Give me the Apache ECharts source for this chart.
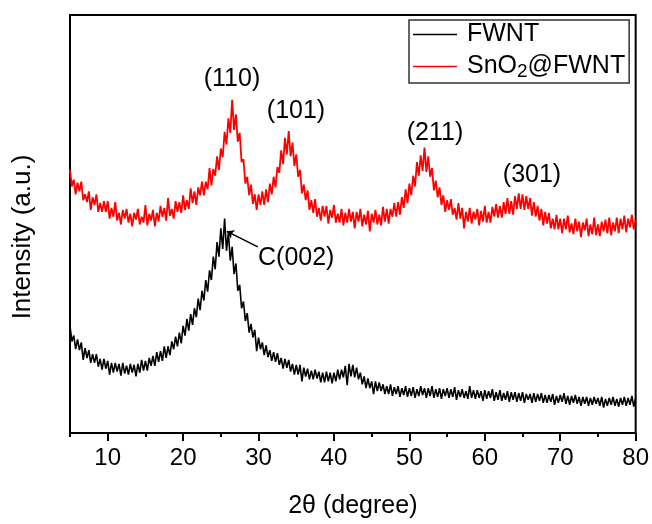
<!DOCTYPE html>
<html>
<head>
<meta charset="utf-8">
<script src="https://cdn.jsdelivr.net/npm/echarts@6/dist/echarts.min.js"></script>
<style>
  html, body { margin: 0; padding: 0; background: #fff; }
  #main { width: 652px; height: 524px; }
</style>
</head>
<body>
<div id="main"></div>
<script>
// 2theta sampling of the traces (degrees)
var thetaStart = 5;
var thetaStep = 0.25;

// FWNT trace, intensity (a.u.)
var fwnt = [
  110,94,100,86,96,85,93,75,87,77,85,72,81,72,81,68,76,65,76,66,
  74,60,72,62,72,63,71,59,72,61,69,60,71,62,70,58,71,62,75,64,
  74,64,77,69,79,69,83,73,84,74,89,77,89,80,94,86,99,89,103,92,
  110,100,117,105,122,111,128,119,138,126,146,136,157,145,167,157,181,168,196,181,
  210,189,220,187,206,177,191,163,174,146,152,128,135,115,123,103,112,98,106,84,
  98,86,93,80,90,78,85,74,83,73,82,70,77,66,76,67,75,63,71,60,
  70,60,70,53,67,58,66,55,64,55,65,56,63,52,62,52,63,53,62,51,
  62,53,65,55,65,57,69,49,71,58,70,57,67,55,62,50,58,46,56,46,
  53,40,53,43,52,43,50,40,48,40,50,38,47,40,48,37,46,39,48,37,
  46,38,47,36,45,38,48,39,46,36,46,38,48,36,45,37,46,35,45,38,
  46,36,45,37,47,34,44,37,45,36,43,35,48,36,44,35,44,36,43,33,
  44,35,43,36,45,33,42,34,44,33,41,34,43,32,42,34,42,32,41,33,
  42,31,40,34,40,31,41,32,40,33,41,31,39,31,39,32,40,29,38,31,
  39,32,41,30,38,29,38,31,39,30,37,28,37,30,37,28,36,29,37,30,
  36,28,37,26,35,28,36,29,37,28,35,27,36,29,37,28,36,29,38,27,
  36
];

// SnO2@FWNT trace, intensity (a.u.)
var sno2 = [
  270,253,260,245,257,248,258,239,245,237,248,229,242,234,245,227,236,227,238,227,
  238,220,231,222,237,218,226,214,229,220,230,216,225,212,226,219,230,214,222,216,
  234,213,225,218,229,212,226,217,233,222,231,218,241,223,230,220,238,227,237,226,
  244,229,239,230,251,236,248,234,252,244,258,244,258,250,272,254,271,264,284,270,
  292,283,309,296,323,308,342,311,327,299,308,278,281,256,263,244,255,235,245,229,
  245,234,248,234,250,237,256,245,263,252,273,267,290,276,303,286,310,284,298,274,
  286,263,270,246,255,239,249,229,239,226,240,222,231,218,233,222,233,215,229,221,
  234,216,225,216,230,213,226,216,230,217,227,210,227,217,230,212,224,214,228,207,
  225,216,229,214,224,213,232,217,230,215,230,222,236,222,237,224,242,231,250,236,
  256,244,264,253,278,264,285,269,293,268,284,263,272,249,259,242,252,234,244,227,
  239,229,240,224,231,219,236,220,231,210,227,217,231,215,227,219,230,213,228,217,
  233,216,227,216,232,222,235,221,233,221,237,225,241,225,238,224,243,230,246,230,
  245,229,243,230,241,223,237,222,233,218,230,213,227,215,226,210,220,209,224,209,
  220,205,220,209,223,206,215,204,220,207,217,201,216,208,220,202,214,204,221,203,
  214,202,217,207,219,205,221,203,216,207,221,205,220,209,223,206,220,211,224,209,
  219
];

var xTicks = [10, 20, 30, 40, 50, 60, 70, 80];
var xMinorTicks = [5, 15, 25, 35, 45, 55, 65, 75];
var seriesNames = ['FWNT', 'SnO2@FWNT'];
var peakNames = ['(110)', '(101)', '(211)', '(301)'];
var carbonPeak = 'C(002)';

function toPairs(arr) {
  return arr.map(function (v, i) { return [thetaStart + i * thetaStep, v]; });
}

var FONT = '"Liberation Sans", Arial, sans-serif';

var chartDom = document.getElementById('main');
var myChart = echarts.init(chartDom);
var option;

function label(text, x, y, align) {
  return {
    type: 'text', x: x, y: y,
    style: { text: text, fontSize: 25, fontFamily: FONT, fill: '#000', align: align || 'center', verticalAlign: 'middle' }
  };
}

option = {
  animation: false,
  textStyle: { fontFamily: FONT },
  grid: {
    left: 70, right: 15, top: 15, bottom: 80,
    show: true, borderColor: '#000', borderWidth: 2
  },
  legend: {
    orient: 'vertical',
    left: 409, top: 20,
    padding: [2, 4, 2, 4],
    itemGap: 7,
    itemWidth: 44,
    itemHeight: 1.5,
    icon: 'rect',
    borderColor: '#333',
    borderWidth: 1.5,
    data: seriesNames,
    formatter: function (name) {
      if (name === 'SnO2@FWNT') return '{t|SnO}{s|2}{t|@FWNT}';
      return '{t|' + name + '}';
    },
    textStyle: {
      color: '#000',
      fontFamily: FONT,
      fontSize: 25,
      padding: [0, 0, 0, 5],
      rich: {
        t: { fontSize: 25, fontFamily: FONT, color: '#000' },
        s: { fontSize: 19, fontFamily: FONT, color: '#000', verticalAlign: 'bottom', padding: [0, 0, -2, 0] }
      }
    }
  },
  xAxis: [
    {
      type: 'value', min: 5, max: 80, position: 'bottom',
      name: '2\u03b8 (degree)', nameLocation: 'middle', nameGap: 61,
      nameTextStyle: { fontSize: 25, color: '#000', fontFamily: FONT },
      axisLine: { lineStyle: { color: '#000', width: 2 } },
      axisTick: { customValues: xTicks, length: 8, lineStyle: { color: '#000', width: 2 } },
      axisLabel: { customValues: xTicks, fontSize: 24, color: '#000', margin: 13, fontFamily: FONT },
      splitLine: { show: false }
    },
    {
      type: 'value', min: 5, max: 80, position: 'bottom',
      axisLine: { show: false },
      axisTick: { customValues: xMinorTicks, length: 4, lineStyle: { color: '#000', width: 2 } },
      axisLabel: { show: false },
      splitLine: { show: false }
    }
  ],
  yAxis: {
    type: 'value', min: 0, max: 429,
    axisLine: { show: true, lineStyle: { color: '#000', width: 2 } },
    axisTick: { show: false },
    axisLabel: { show: false },
    splitLine: { show: false }
  },
  series: [
    {
      name: seriesNames[0],
      type: 'line',
      data: toPairs(fwnt),
      showSymbol: false,
      symbol: 'none',
      color: '#000',
      lineStyle: { color: '#000', width: 1.6 },
      markLine: {
        silent: true,
        symbol: ['none', 'arrow'],
        symbolSize: 7,
        label: { show: false },
        lineStyle: { color: '#000', width: 1.5, type: 'solid' },
        data: [[{ coord: [29.9, 191] }, { coord: [25.8, 207] }]]
      }
    },
    {
      name: seriesNames[1],
      type: 'line',
      data: toPairs(sno2),
      showSymbol: false,
      symbol: 'none',
      color: '#ff0000',
      lineStyle: { color: '#ff0000', width: 1.8 }
    }
  ],
  graphic: [
    label(peakNames[0], 232, 79),
    label(peakNames[1], 296, 111),
    label(peakNames[2], 435, 133),
    label(peakNames[3], 532, 175),
    label(carbonPeak, 258, 258, 'left'),
    {
      type: 'text', x: 23, y: 237, rotation: Math.PI / 2,
      style: { text: 'Intensity (a.u.)', fontSize: 26, fontFamily: FONT, fill: '#000', align: 'center', verticalAlign: 'middle' }
    }
  ]
};

myChart.setOption(option);
</script>
</body>
</html>
